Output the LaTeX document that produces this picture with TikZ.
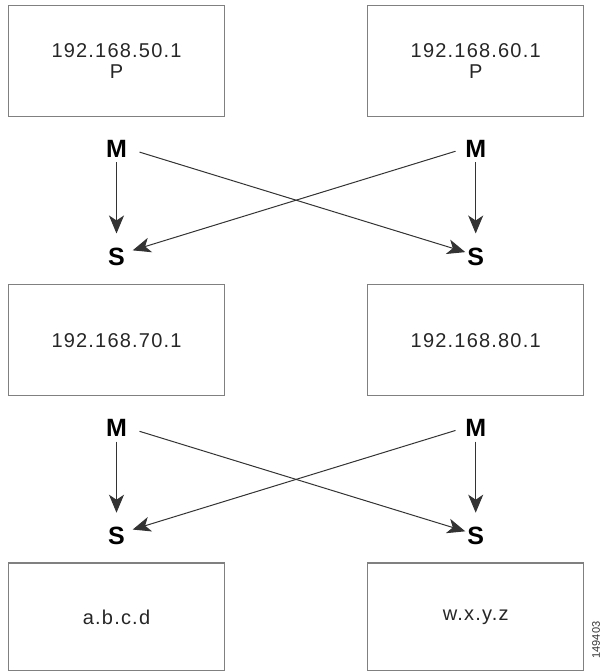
\documentclass[tikz,border=0pt]{standalone}
\usepackage{fontspec}
\setmainfont{Liberation Sans}
\usetikzlibrary{arrows.meta,positioning}

\tikzset{
  host/.style={draw=black!50, line width=1.2pt, minimum width=216pt, minimum height=111pt,
    text=black!85, align=center, font=\fontsize{20}{21}\selectfont\addfontfeature{LetterSpace=6}},
  role/.style={inner sep=0pt, text height=18pt, text depth=0pt, font=\fontsize{25}{25}\selectfont\bfseries},
  link/.style={-{Stealth[length=18pt,width=15pt,inset=5pt]}, draw=black!80, line width=1pt}
}

\begin{document}
\begin{tikzpicture}[x=1pt, y=-1pt, node distance=142pt and 142pt]
      \useasboundingbox (0,0) rectangle (603,671);

      % hosts
      \node[host] (p1) at (116.5,61) {192.168.50.1\\P};
      \node[host] (p2) [right=of p1] {192.168.60.1\\P};
      \node[host] (h1) [below=167pt of p1] {192.168.70.1};
      \node[host] (h2) [right=of h1] {192.168.80.1};
      \node[host, minimum height=108pt] (h3) [below=166pt of h1] {a.b.c.d};
      \node[host, minimum height=108pt] (h4) [right=of h3] {w.x.y.z};

      % master / slave
      \node[role] (m1) [below=22pt of p1] {M};
      \node[role] (m2) [below=22pt of p2] {M};
      \node[role] (s1) [below=90pt of m1] {S};
      \node[role] (s2) [below=90pt of m2] {S};
      \node[role] (m3) [below=22pt of h1] {M};
      \node[role] (m4) [below=22pt of h2] {M};
      \node[role] (s3) [below=90pt of m3] {S};
      \node[role] (s4) [below=90pt of m4] {S};

      \draw[link, shorten <=5pt, shorten >=14pt] (m1) -- (s1);
      \draw[link, shorten <=5pt, shorten >=14pt] (m2) -- (s2);
      \draw[link, shorten <=13pt, shorten >=2pt] (m1.east) -- ([yshift=4pt]s2.west);
      \draw[link, shorten <=10pt, shorten >=8pt] (m2.west) -- ([yshift=4pt]s1.east);
      \draw[link, shorten <=5pt, shorten >=14pt] (m3) -- (s3);
      \draw[link, shorten <=5pt, shorten >=14pt] (m4) -- (s4);
      \draw[link, shorten <=13pt, shorten >=2pt] (m3.east) -- ([yshift=4pt]s4.west);
      \draw[link, shorten <=10pt, shorten >=8pt] (m4.west) -- ([yshift=4pt]s3.east);

      \node[rotate=90, text=black!80, font=\fontsize{11}{11}\selectfont] (fig) at (596,640) {149403};
\end{tikzpicture}
\end{document}
